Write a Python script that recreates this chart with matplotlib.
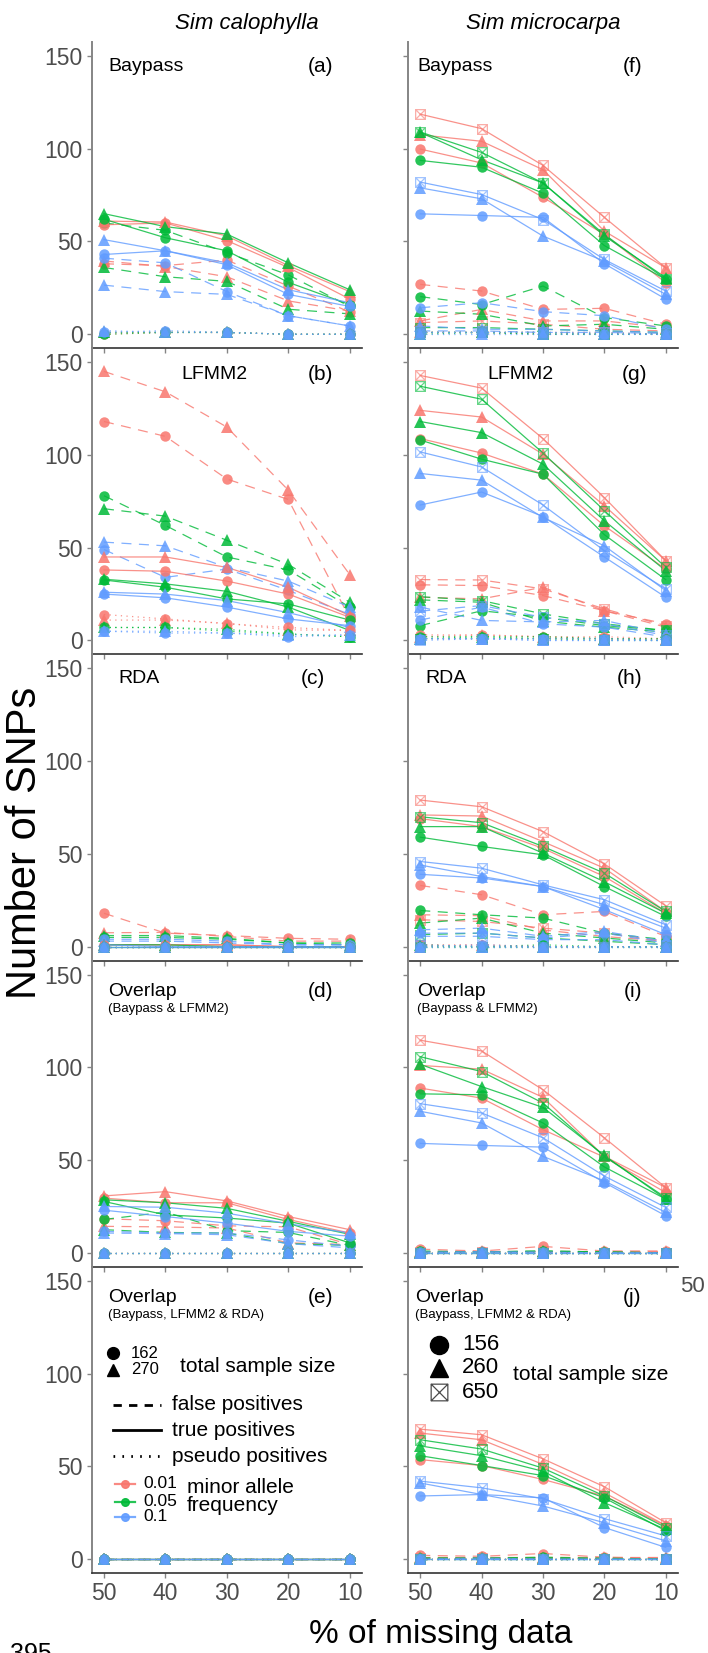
import matplotlib.pyplot as plt
from matplotlib.path import Path

plt.rcParams['font.family'] = ['Liberation Sans', 'DejaVu Sans']

# ========= Data =========
missing = [50, 40, 30, 20, 10]
maf_levels = ['0.01', '0.05', '0.1']
maf_colors = ['#F8766D', '#00BA38', '#619CFF']
cal_sizes = [162, 270]
mic_sizes = [156, 260, 650]

# Sim calophylla: rows = (0.01,162) (0.01,270) (0.05,162) (0.05,270) (0.1,162) (0.1,270)
a_tp = [[59, 60, 50.5, 36, 19], [61, 60.5, 53, 37, 23],
        [62, 52, 45, 28, 16], [65, 58, 54, 38.5, 24],
        [43, 45, 37.5, 21.5, 15], [51, 45, 38.5, 24, 17]]
a_fp = [[38, 37, 40, 26, 12], [39.5, 36.5, 31, 18, 12.5],
        [60, 56, 44, 32, 15], [36, 31, 28.5, 13.5, 11],
        [41, 38.5, 23, 10, 4.5], [26.5, 23, 21.5, 10, 4.5]]
a_pp = [[0, 1, 1, 0, 0], [1, 1, 1, 0, 0],
        [0, 1, 1, 0, 0], [1, 1, 1, 0, 0],
        [1, 2, 1, 0, 0], [2, 1, 1, 0, 0]]

b_tp = [[38, 37.3, 32, 25, 12.5], [45, 45, 39.4, 28.7, 13.4],
        [32.6, 28.7, 22.4, 19.7, 11], [33, 30.5, 26.5, 18, 5.4],
        [25, 23, 18, 11.6, 8], [26, 25, 21.5, 15, 7]]
b_fp = [[118, 110, 87, 76, 12], [145, 134, 115, 81, 35.5],
        [78, 62, 45, 38, 18], [71, 67, 54, 41, 20.6],
        [49, 34, 38.5, 27, 14], [53, 51, 39.4, 32, 18]]
b_pp = [[14, 11.6, 9, 7, 5.4], [11, 11, 9.3, 5.7, 5.4],
        [7, 7, 5, 3.5, 2], [7, 7, 6, 3.5, 2],
        [5, 4, 4, 2, 3], [5, 5, 4, 3, 3]]

c_tp = [[1, 1, 1, 0, 0], [1, 1, 1, 0, 0],
        [0, 0, 0, 0, 0], [1, 1, 0, 0, 0],
        [0, 0, 0, 0, 0], [1, 0, 0, 0, 0]]
c_fp = [[18, 7.3, 6, 4.5, 4], [7.5, 7.7, 5.5, 3, 3],
        [5, 5, 4, 2, 2], [6, 6, 4.5, 2, 1],
        [4, 4, 3, 1, 1], [3, 3, 2, 1, 1]]
c_pp = [[0, 0, 0, 0, 0], [0, 0, 0, 0, 0],
        [0, 0, 0, 0, 0], [0, 0, 0, 0, 0],
        [0, 0, 0, 0, 0], [0, 0, 0, 0, 0]]

d_tp = [[29.5, 27, 27, 18, 10.7], [30.7, 33, 28, 19.6, 12.5],
        [27.7, 20.5, 18.8, 16, 5.4], [28.6, 27, 24, 17, 10],
        [23, 19.6, 16, 11.6, 9], [25, 24.6, 21.4, 15.7, 10.7]]
d_fp = [[18.4, 17.3, 14.6, 14, 4.5], [14.3, 14, 13.4, 5.4, 4.5],
        [18, 22, 12, 11, 4], [12.5, 11, 10.7, 5, 4],
        [11.6, 10.7, 10.7, 7, 3.6], [10.7, 10.4, 9.8, 5, 2.7]]
d_pp = [[0, 0, 0, 0, 0], [0, 0, 0, 0, 0],
        [0, 0, 0, 0, 0], [0, 0, 0, 0, 0],
        [0, 0, 0, 0, 0], [0, 0, 0, 0, 0]]

e_tp = [[0, 0, 0, 0, 0], [0, 0, 0, 0, 0],
        [0, 0, 0, 0, 0], [0, 0, 0, 0, 0],
        [0, 0, 0, 0, 0], [0, 0, 0, 0, 0]]
e_fp = [[0, 0, 0, 0, 0], [0, 0, 0, 0, 0],
        [0, 0, 0, 0, 0], [0, 0, 0, 0, 0],
        [0, 0, 0, 0, 0], [0, 0, 0, 0, 0]]
e_pp = [[0, 0, 0, 0, 0], [0, 0, 0, 0, 0],
        [0, 0, 0, 0, 0], [0, 0, 0, 0, 0],
        [0, 0, 0, 0, 0], [0, 0, 0, 0, 0]]

# Sim microcarpa: rows = 0.01 x (156,260,650), 0.05 x (...), 0.1 x (...)
f_tp = [[99.8, 92.3, 73.8, 53.8, 27.8], [107.5, 104, 88.7, 55.6, 35.8], [118.6, 110.8, 91, 63, 35.8],
        [93.7, 90, 76, 47.8, 29.6], [108.8, 94, 81.5, 53, 30.5], [109, 98, 81.5, 53.8, 29.6],
        [64.9, 64, 63, 38, 19], [78.9, 73, 52.9, 39.4, 21.5], [82, 75.3, 61.8, 40.3, 23.3]]
f_fp = [[26.9, 23.3, 13.4, 14, 5.4], [7.2, 13.4, 7.2, 7.2, 3.6], [6.3, 7.2, 5.4, 2.7, 1.8],
        [20.3, 16, 26, 9, 4.5], [12.5, 10.8, 4.5, 5.4, 2.7], [3.6, 3.6, 2.7, 1.8, 1],
        [14.3, 17, 12.2, 10, 2.7], [4.5, 2.7, 2.7, 1.8, 1], [1.8, 1.8, 1, 1, 0.5]]
f_pp = [[1, 1, 1, 0, 0], [1, 1, 0, 0, 0], [1, 1, 1, 1, 0],
        [1, 1, 1, 0, 0], [0, 1, 0, 0, 0], [1, 1, 0, 0, 0],
        [1, 1, 1, 0, 0], [0, 0, 0, 0, 0], [1, 1, 1, 1, 0]]

g_tp = [[108.8, 101, 89.6, 61.8, 38.5], [124, 120.4, 100.4, 72.6, 43], [142.8, 136, 108.8, 77, 43],
        [108, 97.7, 89.6, 57, 32.8], [118, 112, 95, 64.5, 37.6], [137, 130, 101, 70, 39.4],
        [73, 80, 66.8, 45, 23.3], [90, 86.4, 66.3, 51, 26.9], [101.6, 93.5, 73, 48.4, 27.8]]
g_fp = [[30, 29.6, 24.2, 16, 9], [23.3, 22.4, 28.7, 16, 7.2], [32.8, 32.6, 27.8, 17, 8],
        [8, 16, 12.5, 8, 5.4], [21.9, 20.6, 10.4, 7.2, 4.5], [23.6, 21.5, 14.3, 9, 5.4],
        [11, 18, 9, 7.2, 1.8], [18, 10.8, 10, 10.8, 3.6], [15.8, 18.8, 12.5, 9, 2.7]]
g_pp = [[3, 3, 2, 2, 1], [2, 3, 2, 1, 1], [1, 1, 1, 1, 0],
        [2, 2, 2, 1, 1], [1, 2, 1, 1, 0], [1, 1, 1, 0, 0],
        [1, 1, 1, 1, 0], [1, 1, 0, 0, 0], [0, 1, 0, 0, 0]]

h_tp = [[69, 64.7, 53, 37.8, 18], [71, 70.4, 56.6, 42.3, 19], [79, 75.4, 62, 44.6, 22],
        [59, 54, 49.5, 32.4, 16.3], [64.7, 64.7, 50.4, 35, 18], [70, 66.8, 54, 39.6, 19],
        [39, 37, 32.4, 20, 6.5], [44, 37.8, 32.4, 22.6, 10], [45.9, 42.3, 33.3, 25.3, 11.8]]
h_fp = [[33, 28, 17.2, 19, 5.5], [17.2, 16.7, 9, 5.5, 2.9], [14.5, 13.6, 10, 7.3, 2.9],
        [19.5, 17.2, 15.4, 7.3, 3.8], [12.7, 15.4, 7.3, 4.7, 2], [6.5, 7.3, 4.7, 2.9, 1.1],
        [7.3, 7.3, 4.7, 7.3, 2], [9.1, 10, 5.6, 8.2, 2.9], [5.6, 5.6, 3.8, 3.8, 1]]
h_pp = [[1, 1, 0, 0, 0], [0, 1, 0, 0, 0], [1, 0, 0, 0, 0],
        [0, 0, 1, 0, 0], [1, 0, 0, 0, 0], [0, 0, 0, 0, 0],
        [0, 1, 0, 0, 0], [0, 0, 0, 0, 0], [1, 0, 0, 0, 0]]

i_tp = [[88.8, 83.4, 66.4, 51.6, 32.5], [101, 99, 83.8, 52, 35.2], [114.6, 108.8, 87.9, 62, 35.2],
        [85.7, 85.2, 70, 46.3, 29], [101.6, 89.6, 78.4, 52.5, 29], [105.7, 97.7, 80.7, 52, 29.8],
        [59, 57.9, 57, 37.9, 20], [76.3, 70, 52, 38.8, 21.8], [80.4, 75.4, 62, 41.4, 24.5]]
i_fp = [[2, 1, 3.5, 1, 1], [1, 1, 1, 1, 1], [0.5, 0.5, 0.5, 0, 0],
        [1, 0.5, 1, 0.5, 0], [0.5, 0.5, 1, 0.5, 0], [0, 0, 0, 0, 0],
        [0.5, 0.5, 0.5, 0, 0], [0, 0.5, 0, 0, 0], [0, 0, 0, 0, 0]]
i_pp = [[0, 0, 0, 0, 0], [0, 0, 0, 0, 0], [0, 0, 0, 0, 0],
        [0, 0, 0, 0, 0], [0, 0, 0, 0, 0], [0, 0, 0, 0, 0],
        [0, 0, 0, 0, 0], [0, 0, 0, 0, 0], [0, 0, 0, 0, 0]]

j_tp = [[53.6, 50.4, 42.9, 34, 17.9], [67.9, 64.3, 51, 35.7, 18.2], [70, 67, 54, 39, 19.6],
        [55.7, 50.4, 45, 33, 15.2], [61, 55.7, 47.3, 30.4, 16], [64.3, 59.3, 49, 34, 17],
        [34, 34.8, 33, 17, 6.3], [41, 34.8, 28.6, 19.6, 9.8], [42, 38.4, 32.5, 21.8, 12.5]]
j_fp = [[2, 1.5, 3, 1, 0.5], [1, 1, 1, 1, 1], [0.5, 0.5, 0.5, 0, 0],
        [0.5, 0.5, 1, 0.5, 0], [0.5, 0.5, 0.5, 0, 0], [0, 0, 0, 0, 0],
        [0, 0.5, 0, 0, 0], [0, 0, 0, 0, 0], [0, 0, 0, 0, 0]]
j_pp = [[0, 0, 0, 0, 0], [0, 0, 0, 0, 0], [0, 0, 0, 0, 0],
        [0, 0, 0, 0, 0], [0, 0, 0, 0, 0], [0, 0, 0, 0, 0],
        [0, 0, 0, 0, 0], [0, 0, 0, 0, 0], [0, 0, 0, 0, 0]]

# ========= Markers / styles =========
box_x = Path([(-1, -1), (1, -1), (1, 1), (-1, 1), (-1, -1),
              (-1, -1), (1, 1), (-1, 1), (1, -1)],
             [Path.MOVETO, Path.LINETO, Path.LINETO, Path.LINETO, Path.CLOSEPOLY,
              Path.MOVETO, Path.LINETO, Path.MOVETO, Path.LINETO])
shape_of = {162: 'o', 156: 'o', 270: '^', 260: '^', 650: box_x}
line_styles = {'fp': (0, (8, 6)), 'tp': '-', 'pp': (0, (1, 3.5))}

W, H = 708, 1653
fig = plt.figure(figsize=(W / 100, H / 100), dpi=100)

row_top = 42
row_h = 306.2
col_x = [(91.7, 362), (408, 678)]


def px_axes(col, row):
    x0, x1 = col_x[col]
    top = row_top + row * row_h
    return fig.add_axes([x0 / W, 1 - (top + row_h) / H, (x1 - x0) / W, row_h / H])


def draw_panel(ax, tp, fp, pp, sizes):
    nsz = len(sizes)
    series = [('fp', fp), ('tp', tp), ('pp', pp)]
    for kind, rows in series:
        for k, vals in enumerate(rows):
            col = maf_colors[k // nsz]
            ax.plot(missing, vals, color=col, lw=0.9, alpha=0.8, ls=line_styles[kind])
    for kind, rows in series:
        for k, vals in enumerate(rows):
            col = maf_colors[k // nsz]
            size = sizes[k % nsz]
            if size == 650:
                ax.plot(missing, vals, ls='none', marker=box_x, ms=7, mfc='none',
                        mec=col, mew=0.9, alpha=0.6)
            else:
                ax.plot(missing, vals, ls='none', marker=shape_of[size],
                        ms=7.5 if size in (162, 156) else 8.5, color=col, mec=col,
                        mew=0, alpha=0.85)


def style_axes(ax, col, bottom):
    ax.set_xlim(52, 8)
    ax.set_ylim(-7.5, 157.5)
    ax.set_xticks(missing)
    ax.set_yticks([0, 50, 100, 150])
    ax.set_facecolor('none')
    for s in ['top', 'right']:
        ax.spines[s].set_visible(False)
    ax.spines['left'].set_color('#858585')
    ax.spines['left'].set_linewidth(1.4)
    ax.spines['bottom'].set_color('#333333')
    ax.spines['bottom'].set_linewidth(1.2)
    ax.tick_params(colors='#858585', length=3.5, width=1, labelsize=16.5,
                   labelcolor='#4d4d4d', pad=3)
    ax.tick_params(labelbottom=bottom, labelleft=(col == 0))


panels_left = [(a_tp, a_fp, a_pp), (b_tp, b_fp, b_pp), (c_tp, c_fp, c_pp),
               (d_tp, d_fp, d_pp), (e_tp, e_fp, e_pp)]
panels_right = [(f_tp, f_fp, f_pp), (g_tp, g_fp, g_pp), (h_tp, h_fp, h_pp),
                (i_tp, i_fp, i_pp), (j_tp, j_fp, j_pp)]

axes = {}
for r in range(5):
    for c, (plist, sizes) in enumerate([(panels_left, cal_sizes), (panels_right, mic_sizes)]):
        ax = px_axes(c, r)
        draw_panel(ax, *plist[r], sizes)
        style_axes(ax, c, r == 4)
        axes[(c, r)] = ax

# ========= Panel labels =========
methods = ['Baypass', 'LFMM2', 'RDA', 'Overlap', 'Overlap']
subs = [None, None, None, '(Baypass & LFMM2)', '(Baypass, LFMM2 & RDA)']
letters = [['(a)', '(b)', '(c)', '(d)', '(e)'], ['(f)', '(g)', '(h)', '(i)', '(j)']]
name_x = [[0.06, 0.453, 0.097, 0.06, 0.06], [0.033, 0.418, 0.063, 0.033, 0.026]]
name_ha = ['left', 'center', 'left', 'left', 'left']
name_y = [0.92, 0.915, 0.921, 0.899, 0.899]
letter_x = [[0.845, 0.845, 0.82, 0.845, 0.848], [0.83, 0.84, 0.822, 0.833, 0.83]]
for c in range(2):
    for r in range(5):
        ax = axes[(c, r)]
        ax.text(name_x[c][r], name_y[r], methods[r], transform=ax.transAxes,
                fontsize=14, ha=name_ha[r], va='center')
        ax.text(letter_x[c][r], name_y[r], letters[c][r], transform=ax.transAxes,
                fontsize=15, ha='center', va='center')
        if subs[r]:
            ax.text(name_x[c][r], 0.843, subs[r], transform=ax.transAxes,
                    fontsize=9.5, ha='left', va='center')

# ========= Legend in (e) =========
ax = axes[(0, 4)]
ax.plot([0.079], [0.718], marker='o', ms=8.5, color='black', transform=ax.transAxes, clip_on=False)
ax.plot([0.079], [0.663], marker='^', ms=8.5, color='black', transform=ax.transAxes, clip_on=False)
ax.text(0.145, 0.718, '162', fontsize=12, va='center', transform=ax.transAxes)
ax.text(0.145, 0.663, '270', fontsize=12, va='center', transform=ax.transAxes)
ax.text(0.327, 0.673, 'total sample size', fontsize=15, va='center', transform=ax.transAxes)
leg_lines = [('false positives', 0.549, (0, (3, 2.6))), ('true positives', 0.467, '-'),
             ('pseudo positives', 0.382, (0, (0.6, 2.6)))]
for lab, yy, ls in leg_lines:
    ax.plot([0.077, 0.255], [yy, yy], color='black', lw=2, ls=ls,
            transform=ax.transAxes, clip_on=False)
    ax.text(0.297, yy, lab, fontsize=15, va='center', transform=ax.transAxes)
maf_y = [0.291, 0.232, 0.183]
for m, col, yy in zip(maf_levels, maf_colors, maf_y):
    ax.plot([0.087, 0.16], [yy, yy], color=col, lw=1.6, alpha=0.85,
            transform=ax.transAxes, clip_on=False)
    ax.plot([0.123], [yy], marker='o', ms=5.5, color=col, alpha=0.9,
            transform=ax.transAxes, clip_on=False)
    ax.text(0.19, yy, m, fontsize=12.5, va='center', transform=ax.transAxes)
ax.text(0.353, 0.278, 'minor allele', fontsize=15, va='center', transform=ax.transAxes)
ax.text(0.353, 0.219, 'frequency', fontsize=15, va='center', transform=ax.transAxes)

# ========= Legend in (j) =========
ax = axes[(1, 4)]
j_leg = [('156', 'o', 0.745), ('260', '^', 0.67), ('650', box_x, 0.591)]
for lab, mk, yy in j_leg:
    if mk is box_x:
        ax.plot([0.115], [yy], marker=mk, ms=12, mfc='none', mec='black', mew=0.9,
                alpha=0.7, transform=ax.transAxes, clip_on=False)
    else:
        ax.plot([0.115], [yy], marker=mk, ms=13, color='black',
                transform=ax.transAxes, clip_on=False)
    ax.text(0.2, yy, lab, fontsize=16, va='center', transform=ax.transAxes)
ax.text(0.388, 0.647, 'total sample size', fontsize=15, va='center', transform=ax.transAxes)

# ========= Figure texts =========
fig.text(247 / W, 1 - 23 / H, 'Sim calophylla', style='italic', fontsize=16, ha='center', va='center')
fig.text(543 / W, 1 - 23 / H, 'Sim microcarpa', style='italic', fontsize=16, ha='center', va='center')
fig.text(25 / W, 1 - 843 / H, 'Number of SNPs', rotation=90, fontsize=30, ha='center', va='center')
fig.text(441 / W, 1 - 1635 / H, '% of missing data', fontsize=24, ha='center', va='center')
fig.text(680 / W, 1 - 1286 / H, '50', fontsize=16, color='#4d4d4d', ha='left', va='center')
fig.text(10 / W, 1 - 1642 / H, '395', fontsize=18, ha='left', va='top')

fig.savefig('out.png', dpi=100)
